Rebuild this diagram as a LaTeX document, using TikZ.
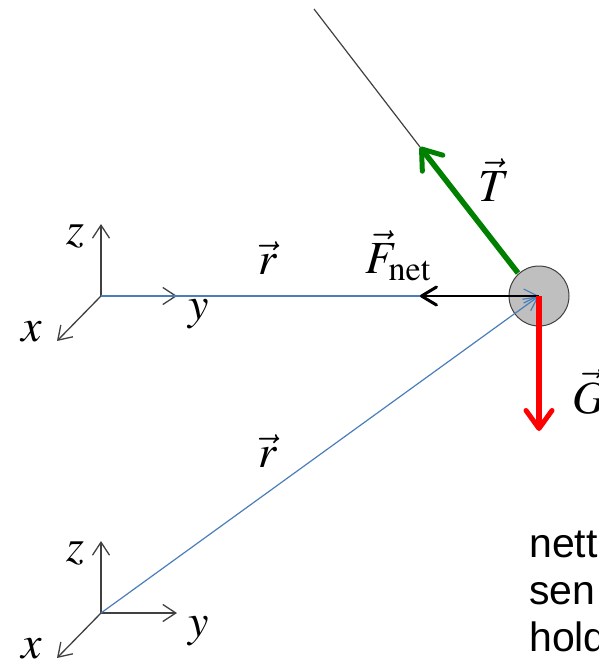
\documentclass[tikz,border=0pt]{standalone}
\usepackage{mathptmx}
\usepackage{fontspec}
\newfontfamily\arialfont{Liberation Sans}
\usetikzlibrary{arrows.meta}
\definecolor{axisgray}{HTML}{404040}
\definecolor{rblue}{HTML}{4A7EBB}
\definecolor{tgreen}{HTML}{008000}
\tikzset{
  axis/.style={axisgray, line width=1.3pt, -{Straight Barb[length=13pt,width=17pt,line width=1.3pt]}},
  rvec/.style={rblue, line width=1.2pt, -{Straight Barb[length=14pt,width=14pt,line width=1.2pt]}},
  force/.style={line width=5.5pt, -{Straight Barb[length=18pt,width=26pt,line width=5pt,round]}},
  lbl/.style={font=\fontsize{46}{46}\selectfont, inner sep=0pt},
  txt/.style={font=\arialfont\fontsize{41}{41}\selectfont, inner sep=0pt, anchor=base west}
}
\begin{document}
\begin{tikzpicture}[x=1pt,y=-1pt]
\useasboundingbox (0,0) rectangle (598,664);

% coordinate systems
\coordinate (O1) at (101,296);
\coordinate (O2) at (101,613);
\foreach \o/\n in {O1/a,O2/b}{
  \draw[axis] (\o) -- ++(0,-72) coordinate (z\n);
  \draw[axis] (\o) -- ++(76,0) coordinate (y\n);
  \draw[axis] (\o) -- ++(-44,45) coordinate (x\n);
}
\node[lbl] (zla) at (75,236) {$z$};
\node[lbl] (yla) at (199,314) {$y$};
\node[lbl] (xla) at (32,332) {$x$};
\node[lbl] (zlb) at (75,553) {$z$};
\node[lbl] (ylb) at (199,631) {$y$};
\node[lbl] (xlb) at (32,649) {$x$};

% string and ball
\coordinate (top) at (314,9);
\coordinate (hook) at (420,147);
\coordinate (edge) at (518,273);
\draw[axisgray, line width=1.2pt] (top) -- (hook);
\node[circle, draw=axisgray, fill=lightgray, line width=1pt, minimum size=60pt, inner sep=0pt] (ball) at (539,296) {};

% position vectors
\draw[rvec] (O1) -- (ball.center);
\draw[rvec] (O2) -- (ball.center);
\node[lbl] (r1) at (268,258) {$\vec{r}$};
\node[lbl] (r2) at (268,451) {$\vec{r}$};

% forces
\coordinate (fnet) at (420,296);
\coordinate (gend) at (539,431);
\draw[black, line width=2.2pt, -{Straight Barb[length=15pt,width=18pt,line width=3pt,round]}] (ball.center) -- (fnet);
\draw[force, red] (ball.center) -- (gend);
\draw[force, tgreen] (edge) -- (hook);
\node[lbl] (tl) at (494,180) {$\vec{T}$};
\node[lbl] (fl) at (398,256) {$\vec{F}_{\mathrm{net}}$};
\node[lbl, anchor=west] (gl) at (572,392) {$\vec{G}$};

% text
\node[txt] (t1) at (529,557) {nett};
\node[txt] (t2) at (529,604) {sen};
\node[txt] (t3) at (529,651) {hold};
\end{tikzpicture}
\end{document}
